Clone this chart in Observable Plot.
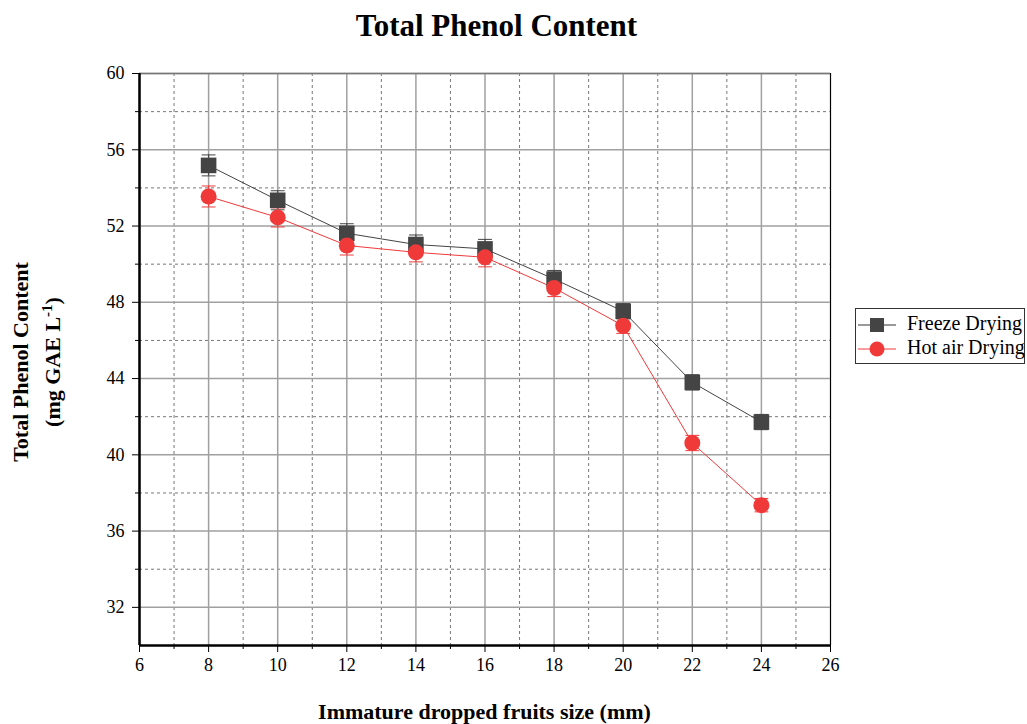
<!DOCTYPE html>
<html>
<head>
<meta charset="utf-8">
<script src="https://cdn.jsdelivr.net/npm/d3@7"></script>
<script src="https://cdn.jsdelivr.net/npm/@observablehq/plot@0.6"></script>
<style>
  html, body { margin: 0; padding: 0; background: #fff; }
  #wrap { position: relative; width: 1027px; height: 724px; font-family: "Liberation Serif", "Times New Roman", serif; }
  #chart { position: absolute; left: 0; top: 0; }
  .title { position: absolute; left: 0; width: 993px; top: 8px; text-align: center; font-weight: bold; font-size: 31px; }
  .xlab { position: absolute; left: 139px; width: 691px; top: 699px; text-align: center; font-weight: bold; font-size: 22px; }
  .ylab { position: absolute; left: 37px; top: 362px; width: 320px; transform: translate(-50%, -50%) rotate(-90deg); text-align: center; font-weight: bold; font-size: 22px; line-height: 26px; }
  .legend { position: absolute; left: 855px; top: 308px; width: 170px; height: 56px; border: 1px solid #333; box-sizing: border-box; font-size: 20px; }
  .legend .row { position: absolute; left: 0; height: 24px; width: 100%; }
  .legend .row span { position: absolute; left: 51px; top: -1px; white-space: nowrap; }
  .legend svg { position: absolute; left: 2px; top: 0; }
</style>
</head>
<body>
<div id="wrap">
  <div id="chart"></div>
  <div class="title">Total Phenol Content</div>
  <div class="xlab">Immature dropped fruits size (mm)</div>
  <div class="ylab">Total Phenol Content<br>(mg GAE L<sup style="font-size:15px">-1</sup>)</div>
  <div class="legend">
    <div class="row" style="top:4px">
      <svg width="42" height="24"><line x1="0" y1="12" x2="38" y2="12" stroke="#333" stroke-width="1"/><rect x="12" y="5" width="14" height="14" fill="#444"/></svg>
      <span>Freeze Drying</span>
    </div>
    <div class="row" style="top:28px">
      <svg width="42" height="24"><line x1="0" y1="12" x2="38" y2="12" stroke="#f03a3a" stroke-width="1"/><circle cx="19" cy="12" r="7.5" fill="#f03a3a"/></svg>
      <span>Hot air Drying</span>
    </div>
  </div>
</div>
<script>
const sizes = [8, 10, 12, 14, 16, 18, 20, 22, 24];
const freezeDrying = [55.18, 53.35, 51.62, 51.03, 50.8, 49.22, 47.53, 43.8, 41.72];
const freezeErr = [0.55, 0.5, 0.5, 0.5, 0.5, 0.45, 0.4, 0.4, 0.4];
const hotAirDrying = [53.55, 52.45, 50.98, 50.62, 50.36, 48.75, 46.77, 40.62, 37.36];
const hotErr = [0.55, 0.5, 0.5, 0.5, 0.5, 0.45, 0.4, 0.4, 0.35];
const xMajorTicks = [6, 8, 10, 12, 14, 16, 18, 20, 22, 24, 26];
const xMinorTicks = [7, 9, 11, 13, 15, 17, 19, 21, 23, 25];
const yMajorTicks = [32, 36, 40, 44, 48, 52, 56, 60];
const yMinorTicks = [34, 38, 42, 46, 50, 54, 58];

const freeze = sizes.map((x, i) => ({x, y: freezeDrying[i], e: freezeErr[i]}));
const hot = sizes.map((x, i) => ({x, y: hotAirDrying[i], e: hotErr[i]}));

const dark = "#444444";
const red = "#f03a3a";
const capHalf = 0.2;

function errMarks(data, color) {
  return [
    Plot.ruleX(data, {x: "x", y1: d => d.y - d.e, y2: d => d.y + d.e, stroke: color, strokeWidth: 1}),
    Plot.link(data, {x1: d => d.x - capHalf, x2: d => d.x + capHalf, y1: d => d.y + d.e, y2: d => d.y + d.e, stroke: color, strokeWidth: 1}),
    Plot.link(data, {x1: d => d.x - capHalf, x2: d => d.x + capHalf, y1: d => d.y - d.e, y2: d => d.y - d.e, stroke: color, strokeWidth: 1})
  ];
}

const chart = Plot.plot({
  width: 1027,
  height: 724,
  marginLeft: 139,
  marginRight: 197,
  marginTop: 73,
  marginBottom: 79,
  style: {fontFamily: '"Liberation Serif", "Times New Roman", serif', fontSize: "18px", color: "#000", background: "#fff"},
  x: {domain: [6, 26], label: null},
  y: {domain: [30, 60], label: null},
  marks: [
    Plot.gridX({ticks: xMinorTicks, stroke: "#777", strokeOpacity: 1, strokeDasharray: "3,3"}),
    Plot.gridY({ticks: yMinorTicks, stroke: "#777", strokeOpacity: 1, strokeDasharray: "3,3"}),
    Plot.gridX({ticks: xMajorTicks, stroke: "#a0a0a0", strokeOpacity: 1, strokeWidth: 1.5}),
    Plot.gridY({ticks: yMajorTicks, stroke: "#a0a0a0", strokeOpacity: 1, strokeWidth: 1.5}),
    Plot.ruleY([60], {stroke: "#777", strokeWidth: 1.5}),
    Plot.ruleX([26], {stroke: "#000", strokeWidth: 1}),
    Plot.axisX({ticks: xMajorTicks, tickSize: 7, tickWidth: 2, tickPadding: 6, tickFormat: d => d, label: null, stroke: "#000"}),
    Plot.axisX({ticks: xMinorTicks, tickSize: 4, tickWidth: 2, tickFormat: () => "", label: null}),
    Plot.axisY({ticks: yMajorTicks, tickSize: 7, tickWidth: 2, tickPadding: 8, tickFormat: d => d, label: null}),
    Plot.axisY({ticks: yMinorTicks, tickSize: 4, tickWidth: 2, tickFormat: () => "", label: null}),
    Plot.ruleX([6], {stroke: "#000", strokeWidth: 2.5}),
    Plot.ruleY([30], {stroke: "#000", strokeWidth: 2.5}),
    ...errMarks(freeze, dark),
    Plot.line(freeze, {x: "x", y: "y", stroke: dark, strokeWidth: 1}),
    ...errMarks(hot, red),
    Plot.line(hot, {x: "x", y: "y", stroke: red, strokeWidth: 1}),
    Plot.dot(freeze, {x: "x", y: "y", symbol: "square", r: 8.8, fill: dark, stroke: "none"}),
    Plot.dot(hot, {x: "x", y: "y", symbol: "circle", r: 8, fill: red, stroke: "none"})
  ]
});
document.getElementById("chart").appendChild(chart);
</script>
</body>
</html>
